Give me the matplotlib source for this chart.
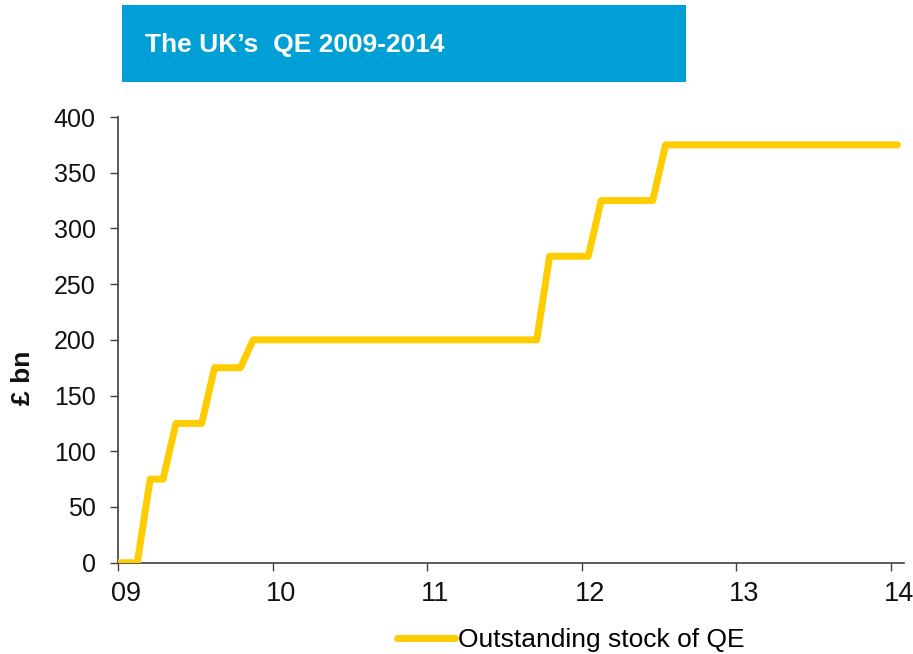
import matplotlib.pyplot as plt
from matplotlib.patches import Rectangle
from matplotlib.transforms import ScaledTranslation

plt.rcParams['font.family'] = ['Liberation Sans', 'DejaVu Sans']

# monthly outstanding stock of QE, Dec 2008 .. Jan 2014 (GBP bn)
qe_2008 = [0]                                                           # Dec
qe_2009 = [0, 0, 75, 75, 125, 125, 125, 175, 175, 175, 200, 200]
qe_2010 = [200] * 12
qe_2011 = [200, 200, 200, 200, 200, 200, 200, 200, 200, 275, 275, 275]
qe_2012 = [275, 325, 325, 325, 325, 325, 375, 375, 375, 375, 375, 375]
qe_2013 = [375] * 12
qe_2014 = [375]                                                         # Jan

values = qe_2008 + qe_2009 + qe_2010 + qe_2011 + qe_2012 + qe_2013 + qe_2014
# x = two-digit year + mid-month fraction, starting Dec 2008
x = [8 + 11.5 / 12 + i / 12 for i in range(len(values))]

tick_pos = [9, 10, 11, 12, 13, 14]
tick_labels = ['09', '10', '11', '12', '13', '14']
y_ticks = [0, 50, 100, 150, 200, 250, 300, 350, 400]

fig = plt.figure(figsize=(9.13, 6.54), dpi=100)
ax = fig.add_axes([0.1292, 0.1396, 0.861, 0.6815])

ax.plot(x, values, color='#FFCC00', lw=5, solid_capstyle='round',
        solid_joinstyle='round', label='Outstanding stock of QE', zorder=3)

ax.set_xlim(9, 14.084)
ax.set_ylim(0, 400)
ax.set_xticks(tick_pos)
ax.set_xticklabels(tick_labels)
ax.set_yticks(y_ticks)

for s in ['top', 'right']:
    ax.spines[s].set_visible(False)
for s in ['left', 'bottom']:
    ax.spines[s].set_color('#404040')
    ax.spines[s].set_linewidth(1.2)

ax.tick_params(axis='both', direction='out', length=6, width=1,
               color='#404040', labelcolor='#111111')
ax.tick_params(axis='y', pad=10, labelsize=18)
ax.tick_params(axis='x', pad=7, labelsize=19.5)

# x labels sit a little right of their ticks in the original
shift = ScaledTranslation(8 / 100, 0, fig.dpi_scale_trans)
for lab in ax.get_xticklabels():
    lab.set_transform(lab.get_transform() + shift)

ax.set_ylabel('£ bn', fontsize=19, fontweight='bold', color='#111111')
ax.yaxis.set_label_coords(-0.106, 0.415)

# title banner
fig.patches.append(Rectangle((122 / 913, 1 - 82 / 654), 564 / 913, 77 / 654,
                             transform=fig.transFigure, facecolor='#00A0D6',
                             edgecolor='none'))
fig.text(145 / 913, 1 - 45 / 654, 'The UK\u2019s  QE 2009-2014', color='white',
         fontsize=19, fontweight='bold', va='center', ha='left')

ax.legend(loc='center', bbox_to_anchor=(571 / 913, 1 - 640 / 654),
          bbox_transform=fig.transFigure, frameon=False, fontsize=19,
          handlelength=2.2, handletextpad=0.12, borderpad=0)

fig.savefig('out.png', dpi=100)
